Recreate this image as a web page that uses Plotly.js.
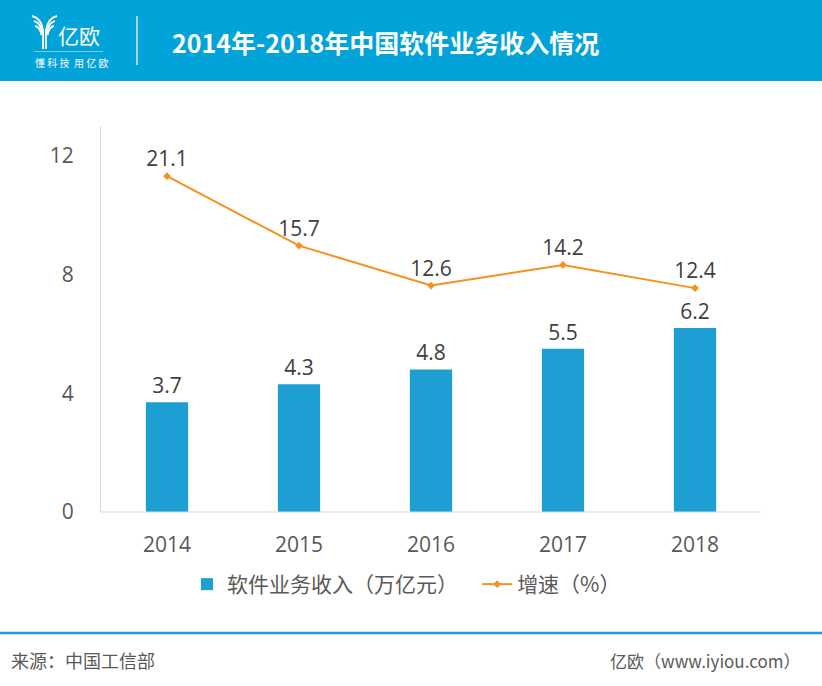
<!DOCTYPE html>
<html><head><meta charset="utf-8">
<script src="https://cdn.plot.ly/plotly-3.0.1.min.js"></script>
<style>html,body{margin:0;padding:0;background:#fff;}#chart{width:822px;height:686px;}</style>
</head><body><div id="chart"></div>
<script>
const years = ['2014','2015','2016','2017','2018'];
const revenue = [3.7, 4.3, 4.8, 5.5, 6.2];
const growth = [21.1, 15.7, 12.6, 14.2, 12.4];
const yTicks = [0, 4, 8, 12];
const titleText = '2014年-2018年中国软件业务收入情况';
const revenueName = '软件业务收入（万亿元）';
const growthName = '增速（%）';
const sourceText = '来源：中国工信部';
const siteText = '亿欧（www.iyiou.com）';

const L = 101, R = 761, T = 126, B = 512;
const px = x => (x - L) / (R - L);
const py = y => (B - y) / (B - T);
const FONT = '"Open Sans","Noto Sans CJK SC",sans-serif';
const CJK = '"Noto Sans CJK SC","Open Sans",sans-serif';

const traces = [
  {type:'bar', x:years, y:revenue, name:revenueName + '\u00a0\u00a0\u00a0', width:0.32,
   marker:{color:'#1E9FD4'}, text:revenue.map(v=>v.toFixed(1)), textposition:'outside',
   textfont:{size:21,color:'#404040',family:FONT}, cliponaxis:false, hoverinfo:'none'},
  {type:'scatter', mode:'lines+markers+text', x:years, y:growth, yaxis:'y2', name:growthName,
   line:{color:'#F7901E',width:2}, marker:{symbol:'diamond',size:6,color:'#F7901E'},
   text:growth.map(v=>v.toFixed(1)), textposition:'top center',
   textfont:{size:21,color:'#404040',family:FONT}, cliponaxis:false, hoverinfo:'none'}
];

const logoPaths = [
  'M 32 16 Q 41 18 43 30 L 43 49',
  'M 34 21 Q 41 23 42 33',
  'M 57 16 Q 48 18 46 30 L 46 49',
  'M 55 21 Q 48 23 47 33',
  'M 35 26 Q 40 27 41.5 35',
  'M 54 26 Q 49 27 47.5 35'
];

const shapes = [
  {type:'rect', xref:'paper', yref:'paper', x0:px(0), x1:px(822), y0:py(0), y1:py(81), fillcolor:'#02A3D9', line:{width:0}, layer:'below'},
  {type:'line', xref:'paper', yref:'paper', x0:px(137), x1:px(137), y0:py(16), y1:py(65), line:{color:'#ffffff',width:1.2}},
  {type:'line', xref:'paper', yref:'paper', x0:px(34), x1:px(103), y0:py(51.5), y1:py(51.5), line:{color:'rgba(255,255,255,0.6)',width:0.8}},
  {type:'line', xref:'paper', yref:'paper', x0:px(0), x1:px(822), y0:py(633), y1:py(633), line:{color:'#1E9CD7',width:2.5}}
].concat(logoPaths.map(p => {
  const conv = p.replace(/(-?\d+(?:\.\d+)?) (-?\d+(?:\.\d+)?)/g, (m,a,b)=> px(+a).toFixed(5)+' '+py(+b).toFixed(5));
  return {type:'path', xref:'paper', yref:'paper', path:conv, line:{color:'#ffffff',width:1.8}};
}));

const annotations = [
  {xref:'paper', yref:'paper', x:px(170), y:py(42), xanchor:'left', yanchor:'middle', showarrow:false,
   text:'<b>'+titleText+'</b>', font:{size:25,color:'#ffffff',family:CJK}},
  {xref:'paper', yref:'paper', x:px(56), y:py(35), xanchor:'left', yanchor:'middle', showarrow:false,
   text:'亿欧', font:{size:21,color:'#ffffff',family:CJK}},
  {xref:'paper', yref:'paper', x:px(33), y:py(62), xanchor:'left', yanchor:'middle', showarrow:false,
   text:'懂 科 技  用 亿 欧', font:{size:10,color:'#ffffff',family:CJK}},
  {xref:'paper', yref:'paper', x:px(9), y:py(660), xanchor:'left', yanchor:'middle', showarrow:false,
   text:sourceText, font:{size:18,color:'#595959',family:CJK}},
  {xref:'paper', yref:'paper', x:px(803), y:py(660), xanchor:'right', yanchor:'middle', showarrow:false,
   text:siteText, font:{size:17,color:'#595959',family:CJK}}
];

const layout = {
  width:822, height:686, paper_bgcolor:'#ffffff', plot_bgcolor:'#ffffff',
  margin:{l:L, r:822-R, t:T, b:686-B, pad:0},
  showlegend:true,
  legend:{orientation:'h', x:px(187), y:py(564), xanchor:'left', yanchor:'top',
    font:{size:21,color:'#595959',family:CJK}, itemwidth:30, traceorder:'normal'},
  xaxis:{type:'category', showgrid:false, zeroline:false, showline:false, ticks:'',
    tickfont:{size:21,color:'#595959',family:FONT}, ticklabelstandoff:18},
  yaxis:{range:[0,13], tickvals:yTicks, showgrid:false, zeroline:false, showline:true,
    linecolor:'#D9D9D9', linewidth:1, ticks:'', tickfont:{size:21,color:'#595959',family:FONT},
    ticklabelstandoff:22},
  yaxis2:{range:[-5,25], overlaying:'y', side:'right', visible:false, showgrid:false, zeroline:false},
  shapes: shapes.concat([{type:'line', xref:'paper', yref:'paper', x0:0, x1:1, y0:0, y1:0, line:{color:'#D9D9D9',width:1}}]),
  annotations: annotations
};

Plotly.newPlot('chart', traces, layout, {staticPlot:true, displayModeBar:false});
</script></body></html>
